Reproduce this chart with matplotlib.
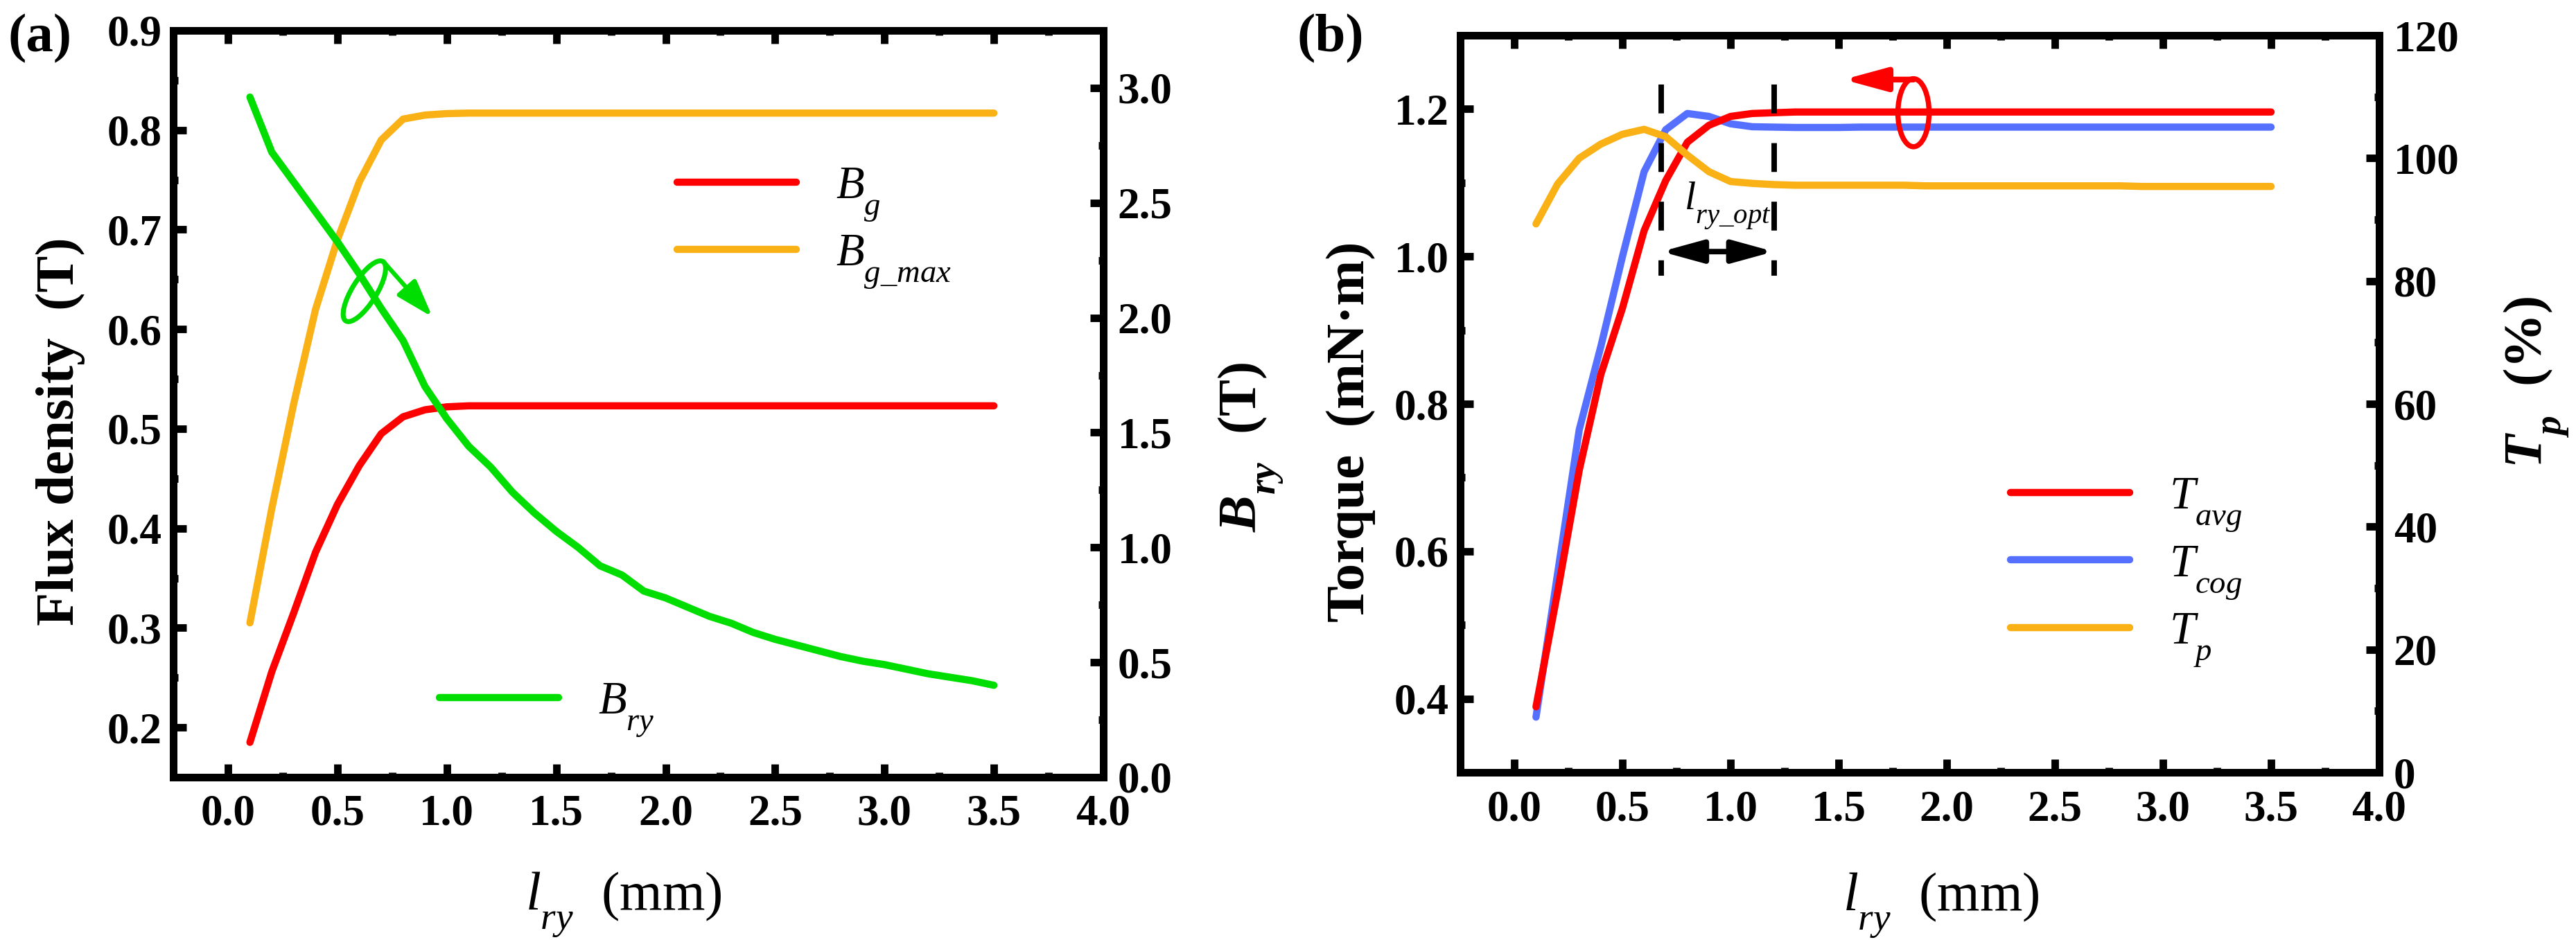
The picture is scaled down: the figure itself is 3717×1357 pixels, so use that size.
import matplotlib
matplotlib.use("Agg")
import matplotlib.pyplot as plt
import matplotlib._mathtext as mathtext_internals
from matplotlib.ticker import MultipleLocator, FormatStrFormatter
from matplotlib.patches import Ellipse, FancyArrowPatch
from matplotlib.transforms import ScaledTranslation

# ---------------- data ----------------
l_ry = [0.1, 0.2, 0.3, 0.4, 0.5, 0.6, 0.7, 0.8, 0.9, 1.0,
        1.1, 1.2, 1.3, 1.4, 1.5, 1.6, 1.7, 1.8, 1.9, 2.0,
        2.1, 2.2, 2.3, 2.4, 2.5, 2.6, 2.7, 2.8, 2.9, 3.0,
        3.1, 3.2, 3.3, 3.4, 3.5]

# (a) air-gap flux density (left axis, T)
b_g = [0.185, 0.256, 0.315, 0.376, 0.424, 0.463, 0.495, 0.512, 0.519, 0.522,
       0.523, 0.523, 0.523, 0.523, 0.523, 0.523, 0.523, 0.523, 0.523, 0.523,
       0.523, 0.523, 0.523, 0.523, 0.523, 0.523, 0.523, 0.523, 0.523, 0.523,
       0.523, 0.523, 0.523, 0.523, 0.523]
b_g_max = [0.305, 0.420, 0.525, 0.620, 0.690, 0.748, 0.790, 0.811, 0.815, 0.8165,
           0.817, 0.817, 0.817, 0.817, 0.817, 0.817, 0.817, 0.817, 0.817, 0.817,
           0.817, 0.817, 0.817, 0.817, 0.817, 0.817, 0.817, 0.817, 0.817, 0.817,
           0.817, 0.817, 0.817, 0.817, 0.817]
# (a) rotor yoke flux density (right axis, T)
b_ry = [2.96, 2.72, 2.59, 2.46, 2.33, 2.19, 2.04, 1.90, 1.70, 1.56,
        1.44, 1.35, 1.24, 1.15, 1.07, 1.00, 0.92, 0.88, 0.81, 0.78,
        0.74, 0.70, 0.67, 0.63, 0.60, 0.575, 0.55, 0.525, 0.505, 0.49,
        0.47, 0.45, 0.435, 0.42, 0.40]

# (b) torque (left axis, mN.m)
t_avg = [0.389, 0.545, 0.710, 0.840, 0.930, 1.035, 1.103, 1.155, 1.178, 1.190,
         1.194, 1.195, 1.196, 1.196, 1.196, 1.196, 1.196, 1.196, 1.196, 1.196,
         1.196, 1.196, 1.196, 1.196, 1.196, 1.196, 1.196, 1.196, 1.196, 1.196,
         1.196, 1.196, 1.196, 1.196, 1.196]
t_cog = [0.375, 0.570, 0.765, 0.878, 1.000, 1.115, 1.172, 1.194, 1.190, 1.180,
         1.176, 1.1755, 1.175, 1.175, 1.175, 1.1755, 1.1755, 1.1755, 1.1755, 1.1755,
         1.1755, 1.1755, 1.1755, 1.1755, 1.1755, 1.1755, 1.1755, 1.1755, 1.1755, 1.1755,
         1.1755, 1.1755, 1.1755, 1.1755, 1.1755]
# (b) torque ratio (right axis, %)
t_p = [89.3, 95.8, 100.0, 102.3, 103.9, 104.7, 103.5, 100.5, 97.8, 96.2,
       95.9, 95.7, 95.6, 95.6, 95.6, 95.6, 95.6, 95.6, 95.5, 95.5,
       95.5, 95.5, 95.5, 95.5, 95.5, 95.5, 95.5, 95.5, 95.4, 95.4,
       95.4, 95.4, 95.4, 95.4, 95.4]

# optimal yoke length range marked in (b)
opt_range = (0.68, 1.2)

RED = "#ff0000"
ORANGE = "#f9b116"
GREEN = "#00dd00"
BLUE = "#5570ff"

plt.rcParams["font.family"] = ["Liberation Serif", "DejaVu Serif"]
plt.rcParams["mathtext.fontset"] = "custom"
plt.rcParams["mathtext.rm"] = "Liberation Serif"
plt.rcParams["mathtext.it"] = "Liberation Serif:italic"
plt.rcParams["mathtext.bf"] = "Liberation Serif:bold"
plt.rcParams["mathtext.bfit"] = "Liberation Serif:bold:italic"
plt.rcParams["lines.scale_dashes"] = False
# the reference drops its subscripts well below the baseline
mathtext_internals.FontConstantsBase.sub1 = 0.8

SPINE_W = 2.6
TICK_FS = 15.2
LABEL_FS = 19
LEG_FS = 16
LW = 2.5


def style_axes(ax):
    for sp in ax.spines.values():
        sp.set_linewidth(SPINE_W)
    ax.tick_params(which="both", direction="in", width=SPINE_W, labelsize=TICK_FS)
    ax.tick_params(which="major", length=4.6)
    ax.tick_params(which="minor", length=1.7)
    for lab in ax.get_xticklabels() + ax.get_yticklabels():
        lab.set_fontweight("bold")


def set_x(ax):
    ax.set_xlim(-0.25, 4.0)
    ax.xaxis.set_major_locator(MultipleLocator(0.5))
    ax.xaxis.set_minor_locator(MultipleLocator(0.25))
    ax.xaxis.set_major_formatter(FormatStrFormatter("%.1f"))
    ax.tick_params(axis="x", which="both", top=True, pad=6)
    ax.tick_params(axis="y", which="both", right=False, pad=4)


def px_offset(fig, ax, x, y):
    return fig.dpi_scale_trans + ScaledTranslation(x, y, ax.transData)


fig = plt.figure(figsize=(3717 / 300, 1357 / 300), dpi=300)

# ======================= (a) =======================
ax = fig.add_axes([0.0673, 0.1732, 0.3610, 0.7944])
ax2 = ax.twinx()

ln_bg, = ax.plot(l_ry, b_g, color=RED, lw=LW, solid_capstyle="round", label=r"$B_{g}$")
ln_bgm, = ax.plot(l_ry, b_g_max, color=ORANGE, lw=LW, solid_capstyle="round",
                  label=r"$B_{g\_max}$")
ln_bry, = ax2.plot(l_ry, b_ry, color=GREEN, lw=LW, solid_capstyle="round", label=r"$B_{ry}$")

set_x(ax)
ax.set_ylim(0.15, 0.9)
ax.yaxis.set_major_locator(MultipleLocator(0.1))
ax.yaxis.set_minor_locator(MultipleLocator(0.05))
ax.yaxis.set_major_formatter(FormatStrFormatter("%.1f"))
ax2.set_ylim(0, 3.25)
ax2.yaxis.set_major_locator(MultipleLocator(0.5))
ax2.yaxis.set_minor_locator(MultipleLocator(0.25))
ax2.yaxis.set_major_formatter(FormatStrFormatter("%.1f"))
style_axes(ax)
style_axes(ax2)
ax2.tick_params(axis="y", pad=5)

ax.set_xlabel(r"$l_{ry}$  (mm)", fontsize=LABEL_FS)
ax.xaxis.set_label_coords(0.484, -0.124)
ax.xaxis.label.set_va("top")
ax.set_ylabel("Flux density  (T)", fontsize=LABEL_FS, fontweight="bold")
ax.yaxis.set_label_coords(-0.095, 0.463)
ax2.set_ylabel(r"$\mathbfit{B}_{\mathbfit{ry}}$  (T)", fontsize=LABEL_FS, fontweight="bold")
ax2.yaxis.set_label_coords(1.1215, 0.4425)

leg1 = ax.legend(handles=[ln_bg, ln_bgm], loc="center left", bbox_to_anchor=(0.5417, 0.735),
                 frameon=False, fontsize=LEG_FS, handlelength=2.58, handletextpad=0.85,
                 labelspacing=0.2, borderpad=0, borderaxespad=0)
leg2 = ax2.legend(handles=[ln_bry], loc="center left", bbox_to_anchor=(0.286, 0.09),
                  frameon=False, fontsize=LEG_FS, handlelength=2.58, handletextpad=0.85,
                  borderpad=0, borderaxespad=0)

# green ellipse + arrow pointing to the right axis curve
ax2.add_patch(Ellipse((0, 0), width=0.117, height=0.337, angle=-32, fill=False,
                      edgecolor=GREEN, lw=1.7,
                      transform=px_offset(fig, ax2, 0.623, 2.115)))
ax2.add_patch(FancyArrowPatch((0.709, 2.245), (0.934, 2.003), color=GREEN, lw=1.5,
                              arrowstyle="-|>,head_length=11,head_width=3.6",
                              shrinkA=0, shrinkB=0, mutation_scale=1))

fig.text(0.003, 0.985, "(a)", fontsize=LABEL_FS, fontweight="bold", ha="left", va="top")

# ======================= (b) =======================
bx = fig.add_axes([0.5669, 0.1783, 0.3567, 0.7841])
bx2 = bx.twinx()

ln_ta, = bx.plot(l_ry, t_avg, color=RED, lw=LW, solid_capstyle="round", label=r"$T_{avg}$",
                 zorder=3)
ln_tc, = bx.plot(l_ry, t_cog, color=BLUE, lw=LW, solid_capstyle="round", label=r"$T_{cog}$",
                 zorder=2)
ln_tp, = bx2.plot(l_ry, t_p, color=ORANGE, lw=LW, solid_capstyle="round", label=r"$T_{p}$")

set_x(bx)
bx.set_ylim(0.3, 1.3)
bx.yaxis.set_major_locator(MultipleLocator(0.2))
bx.yaxis.set_minor_locator(MultipleLocator(0.1))
bx.yaxis.set_major_formatter(FormatStrFormatter("%.1f"))
bx2.set_ylim(0, 120)
bx2.yaxis.set_major_locator(MultipleLocator(20))
bx2.yaxis.set_minor_locator(MultipleLocator(10))
bx2.yaxis.set_major_formatter(FormatStrFormatter("%d"))
style_axes(bx)
style_axes(bx2)
bx2.tick_params(axis="y", pad=5)

bx.set_xlabel(r"$l_{ry}$  (mm)", fontsize=LABEL_FS)
bx.xaxis.set_label_coords(0.523, -0.1335)
bx.xaxis.label.set_va("top")
bx.set_ylabel("Torque  (mN\u00b7m)", fontsize=LABEL_FS, fontweight="bold")
bx.yaxis.set_label_coords(-0.092, 0.462)
bx2.set_ylabel(r"$\mathbfit{T}_{\mathbfit{p}}$  (%)", fontsize=LABEL_FS, fontweight="bold")
bx2.yaxis.set_label_coords(1.1335, 0.529)

bx2.legend(handles=[ln_ta, ln_tc, ln_tp], loc="center left", bbox_to_anchor=(0.5988, 0.271),
           frameon=False, fontsize=LEG_FS, handlelength=2.58, handletextpad=0.85,
           labelspacing=0.2, borderpad=0, borderaxespad=0)

# optimal range: dashed bounds, double arrow and label
for xv in opt_range:
    bx.plot([xv, xv], [1.233, 0.974], color="black", lw=1.9, linestyle=(0, (10, 10.3)),
            zorder=4)
bx.add_patch(FancyArrowPatch((opt_range[0], 1.0066), (opt_range[1], 1.0066), color="black",
                             lw=1.9, arrowstyle="<|-|>,head_length=12,head_width=3.3",
                             shrinkA=0, shrinkB=0, mutation_scale=1, zorder=4))
bx.text(0.785, 1.063, r"$l_{ry\_opt}$", fontsize=14, ha="left", va="baseline")

# red ellipse with arrow pointing to the left axis
bx.add_patch(Ellipse((0, 0), width=0.15, height=0.327, fill=False, edgecolor=RED, lw=1.8,
                     transform=px_offset(fig, bx, 1.846, 1.195), zorder=5))
bx.add_patch(FancyArrowPatch((1.846, 1.240), (1.522, 1.240), color=RED, lw=2.0,
                             arrowstyle="-|>,head_length=12.5,head_width=3.4",
                             shrinkA=0, shrinkB=0, mutation_scale=1, zorder=5))

fig.text(0.5036, 0.985, "(b)", fontsize=LABEL_FS, fontweight="bold", ha="left", va="top")

fig.savefig("out.png", dpi=300)
